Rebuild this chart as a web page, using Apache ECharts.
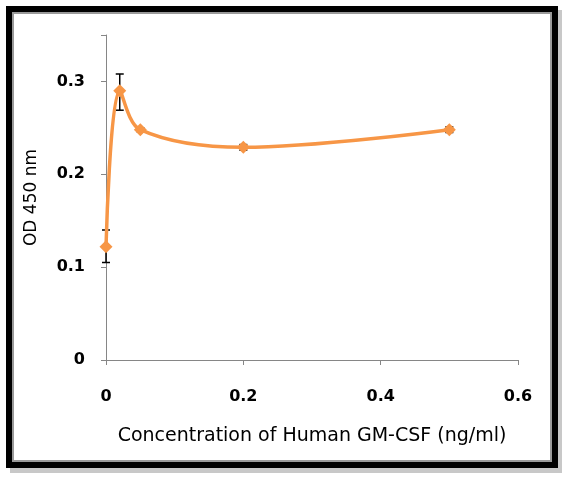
<!DOCTYPE html>
<html>
<head>
<meta charset="utf-8">
<script src="https://cdn.jsdelivr.net/npm/echarts@6/dist/echarts.min.js"></script>
<style>
html,body{margin:0;padding:0;background:#fff;}
#c{width:570px;height:482px;}
</style>
</head>
<body>
<div id="c"></div>
<script>
var concentrations = [0, 0.02, 0.05, 0.2, 0.5];
var odValues = [0.122, 0.290, 0.248, 0.229, 0.248];
var errLow = [0.105, 0.269, 0.246, 0.226, 0.245];
var errHigh = [0.140, 0.308, 0.250, 0.232, 0.251];
var xTicks = [0, 0.2, 0.4, 0.6];
var yTicks = [0, 0.1, 0.2, 0.3];

var lineData = concentrations.map(function (x, i) { return [x, odValues[i]]; });
var errData = concentrations.map(function (x, i) { return [x, errLow[i], errHigh[i]]; });

var chart = echarts.init(document.getElementById('c'));
var font = '"DejaVu Sans", sans-serif';
chart.setOption({
  animation: false,
  backgroundColor: '#fff',
  grid: { left: 106, right: 52, top: 35, bottom: 122, containLabel: false },
  graphic: [
    { type: 'rect', shape: { x: 10, y: 10, width: 552, height: 463 }, style: { fill: '#c8c8c8' }, z: -20 },
    { type: 'rect', shape: { x: 6, y: 6, width: 552, height: 462 }, style: { fill: '#000' }, z: -19 },
    { type: 'rect', shape: { x: 12, y: 12, width: 540, height: 450 }, style: { fill: '#9a9a9a' }, z: -18 },
    { type: 'rect', shape: { x: 14, y: 14, width: 536, height: 446 }, style: { fill: '#fff' }, z: -17 }
  ],
  xAxis: {
    type: 'value', min: 0, max: 0.6, interval: 0.2,
    axisLine: { show: true, lineStyle: { color: '#868686', width: 1 } },
    axisTick: { show: true, inside: false, length: 5, lineStyle: { color: '#868686' } },
    splitLine: { show: false },
    axisLabel: { color: '#000', fontSize: 16, fontWeight: 'bold', fontFamily: font, margin: 29,
      formatter: function (v) { return xTicks.indexOf(+v.toFixed(1)) >= 0 ? String(+v.toFixed(1)) : ''; } },
    name: 'Concentration of Human GM-CSF (ng/ml)',
    nameLocation: 'middle', nameGap: 67,
    nameTextStyle: { color: '#000', fontSize: 19, fontFamily: font }
  },
  yAxis: {
    type: 'value', min: 0, max: 0.35, interval: 0.1,
    axisLine: { show: true, lineStyle: { color: '#868686', width: 1 } },
    axisTick: { show: true, inside: false, length: 5, lineStyle: { color: '#868686' } },
    splitLine: { show: false },
    axisLabel: { color: '#000', fontSize: 16, fontWeight: 'bold', fontFamily: font, margin: 21,
      formatter: function (v) { var r = +v.toFixed(1); return yTicks.indexOf(r) >= 0 && Math.abs(v - r) < 1e-6 ? String(r) : ''; } },
    name: 'OD 450 nm',
    nameLocation: 'middle', nameGap: 66,
    nameTextStyle: { color: '#000', fontSize: 17, fontFamily: font }
  },
  series: [
    {
      type: 'custom',
      data: errData,
      z: 1,
      renderItem: function (params, api) {
        var x = api.value(0);
        var lo = api.coord([x, api.value(1)]);
        var hi = api.coord([x, api.value(2)]);
        var w = 4;
        var st = { stroke: '#000', lineWidth: 1.5 };
        return {
          type: 'group',
          children: [
            { type: 'line', shape: { x1: lo[0], y1: lo[1], x2: hi[0], y2: hi[1] }, style: st },
            { type: 'line', shape: { x1: lo[0] - w, y1: lo[1], x2: lo[0] + w, y2: lo[1] }, style: st },
            { type: 'line', shape: { x1: hi[0] - w, y1: hi[1], x2: hi[0] + w, y2: hi[1] }, style: st }
          ]
        };
      }
    },
    {
      type: 'line',
      data: lineData,
      smooth: 0.35,
      z: 3,
      symbol: 'diamond',
      symbolSize: 13,
      lineStyle: { color: '#F79646', width: 3.5 },
      itemStyle: { color: '#F79646' }
    }
  ]
});
</script>
</body>
</html>
